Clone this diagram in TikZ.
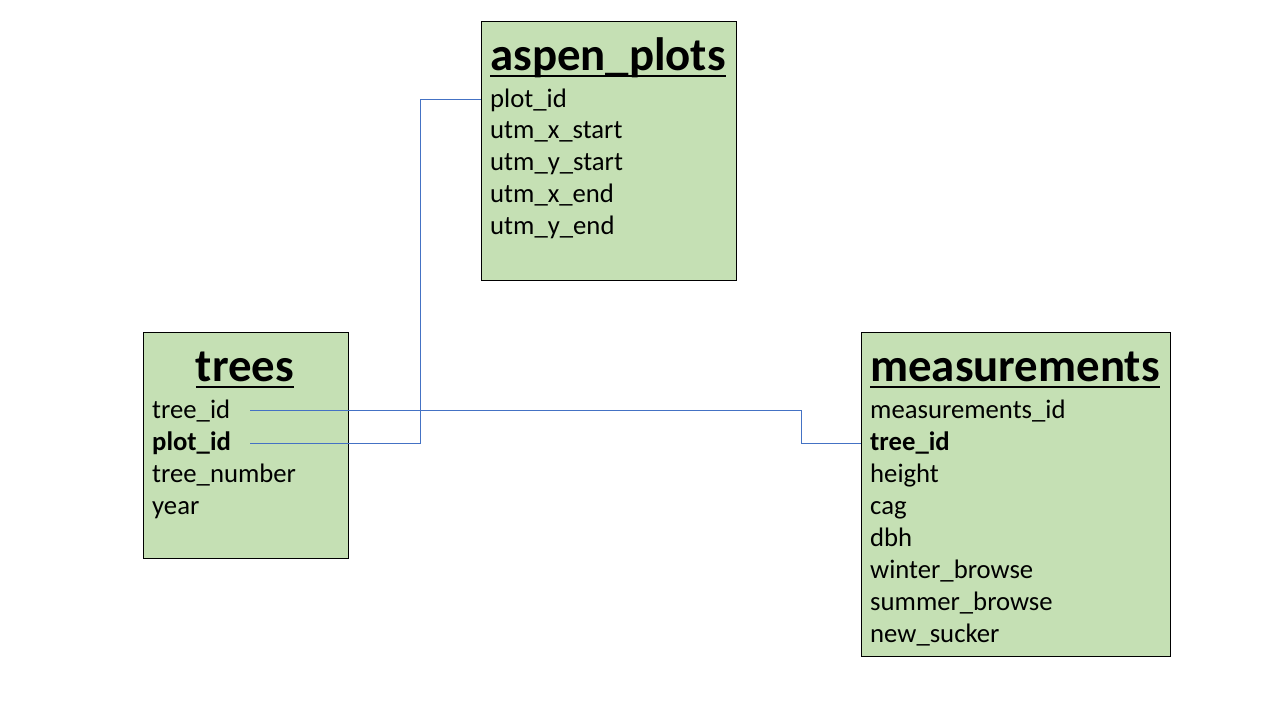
\documentclass[tikz,border=0pt]{standalone}
\usepackage{fontspec}
\setmainfont{Carlito}
\newcommand{\titlebar}[1]{\setbox0\hbox{#1}\rlap{\rule[-6.6pt]{\wd0}{2.6pt}}\box0}
\definecolor{tablegreen}{HTML}{C5E0B4}
\definecolor{linkblue}{HTML}{4472C4}

\begin{document}
\begin{tikzpicture}[x=1pt, y=-1pt,
  table/.style={draw=black, fill=tablegreen, line width=0.8pt, inner sep=0pt},
  title/.style={anchor=base, inner sep=0pt, font=\fontsize{46.8}{50}\selectfont\bfseries},
  field/.style={anchor=base west, inner sep=0pt, font=\fontsize{26.7}{32}\selectfont},
  key/.style={field, font=\fontsize{26.7}{32}\selectfont\bfseries},
  link/.style={linkblue, line width=0.9pt}]

  \useasboundingbox (0,0) rectangle (1280,720);

  % tables
  \node[table, minimum width=255, minimum height=259] (aspen) at (608.5,150.5) {};
  \node[table, minimum width=205, minimum height=226] (trees) at (245.5,445) {};
  \node[table, minimum width=309, minimum height=324] (meas) at (1015.5,494) {};

  % titles
  \node[title] (aspen-title) at (608,70.5) {\titlebar{aspen\_plots}};
  \node[title] (trees-title) at (245,381.5) {\titlebar{trees}};
  \node[title] (meas-title) at (1015,381.5) {\titlebar{measurements}};

  % fields
  \foreach \f/\s [count=\i] in {plot\_id/field, utm\_x\_start/field, utm\_y\_start/field,
      utm\_x\_end/field, utm\_y\_end/field}
    \node[\s] (aspen-\i) at (490,{107+31.9*(\i-1)}) {\f};
  \foreach \f/\s [count=\i] in {tree\_id/field, plot\_id/key, tree\_number/field, year/field}
    \node[\s] (trees-\i) at (152,{418+32*(\i-1)}) {\f};
  \foreach \f/\s [count=\i] in {measurements\_id/field, tree\_id/key, height/field, cag/field,
      dbh/field, winter\_browse/field, summer\_browse/field, new\_sucker/field}
    \node[\s] (meas-\i) at (870,{418+32*(\i-1)}) {\f};

  % links
  \coordinate (trees-plot-end) at (250,443);
  \coordinate (trees-tree-end) at (250,410);
  \coordinate (aspen-plot-in) at (aspen.west |- 0,99);
  \coordinate (meas-tree-in) at (meas.west |- 0,443);

  \draw[link] (trees-plot-end) -| (420,99) -- (aspen-plot-in);
  \draw[link] (trees-tree-end) -| (801,443) -- (meas-tree-in);

\end{tikzpicture}
\end{document}
